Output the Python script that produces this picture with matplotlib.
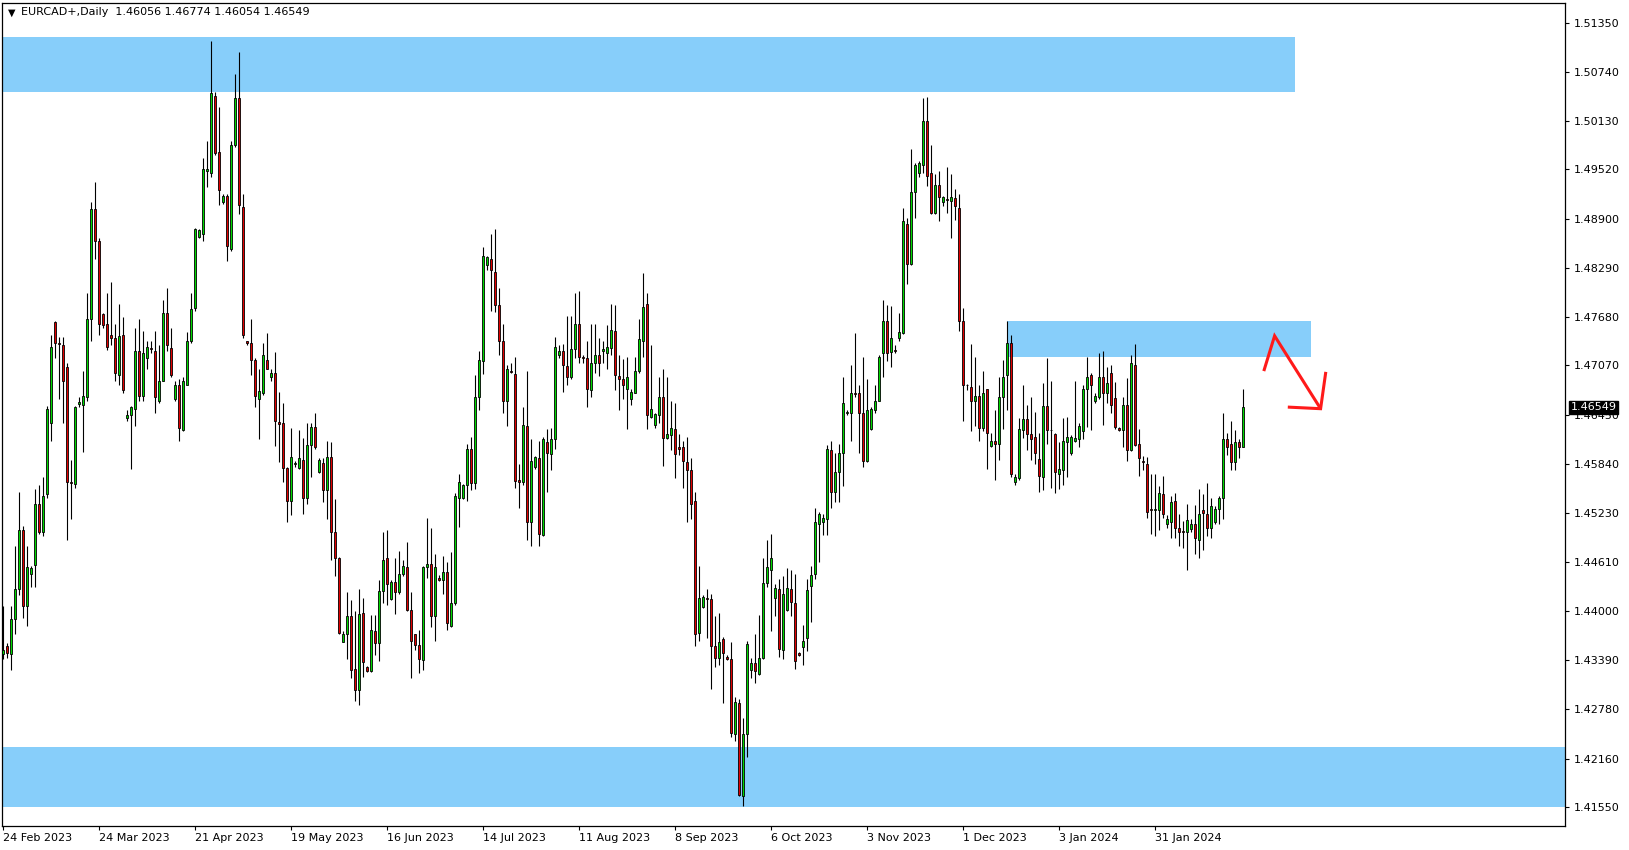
# -*- coding: utf-8 -*-
"""EURCAD daily candles with supply/demand zones (MT4 style)."""

import matplotlib
matplotlib.use("Agg")
import matplotlib.pyplot as plt
import matplotlib.transforms as mtransforms
from matplotlib.patches import Rectangle
import numpy as np

symbol = "EURCAD+,Daily"

opens = [
    1.4347, 1.4357, 1.4347, 1.4390, 1.4428, 1.4502, 1.4406, 1.4447, 1.4458, 1.4534,
    1.4499, 1.4546, 1.4635, 1.4761, 1.4735, 1.4733, 1.4705, 1.4561, 1.4559, 1.4659,
    1.4657, 1.4668, 1.4765, 1.4903, 1.4862, 1.4771, 1.4759, 1.4745, 1.4741, 1.4695,
    1.4745, 1.4641, 1.4645, 1.4653, 1.4725, 1.4669, 1.4716, 1.4729, 1.4725, 1.4663,
    1.4688, 1.4772, 1.4729, 1.4665, 1.4683, 1.4627, 1.4683, 1.4737, 1.4779, 1.4867,
    1.4871, 1.4950, 1.4948, 1.5043, 1.4974, 1.4911, 1.4919, 1.4852, 1.4982, 1.5041,
    1.4905, 1.4737, 1.4735, 1.4714, 1.4665, 1.4672, 1.4714, 1.4692, 1.4698, 1.4636,
    1.4635, 1.4579, 1.4538, 1.4584, 1.4579, 1.4589, 1.4541, 1.4608, 1.4630, 1.4574,
    1.4585, 1.4551, 1.4593, 1.4499, 1.4467, 1.4362, 1.4372, 1.4394, 1.4328, 1.4301,
    1.4398, 1.4330, 1.4325, 1.4375, 1.4360, 1.4425, 1.4467, 1.4415, 1.4437, 1.4424,
    1.4446, 1.4455, 1.4402, 1.4371, 1.4358, 1.4339, 1.4455, 1.4459, 1.4394, 1.4442,
    1.4439, 1.4449, 1.4382, 1.4410, 1.4542, 1.4541, 1.4558, 1.4603, 1.4560, 1.4668,
    1.4712, 1.4832, 1.4840, 1.4824, 1.4782, 1.4738, 1.4663, 1.4700, 1.4696, 1.4564,
    1.4561, 1.4631, 1.4511, 1.4580, 1.4591, 1.4495, 1.4611, 1.4596, 1.4615, 1.4720,
    1.4725, 1.4706, 1.4692, 1.4727, 1.4759, 1.4717, 1.4716, 1.4676, 1.4710, 1.4720,
    1.4725, 1.4722, 1.4729, 1.4750, 1.4694, 1.4690, 1.4678, 1.4665, 1.4673, 1.4700,
    1.4738, 1.4784, 1.4643, 1.4633, 1.4645, 1.4667, 1.4616, 1.4620, 1.4628, 1.4605,
    1.4605, 1.4586, 1.4576, 1.4538, 1.4373, 1.4405, 1.4416, 1.4415, 1.4357, 1.4341,
    1.4365, 1.4343, 1.4340, 1.4247, 1.4285, 1.4169, 1.4247, 1.4327, 1.4335, 1.4321,
    1.4341, 1.4435, 1.4452, 1.4417, 1.4428, 1.4352, 1.4402, 1.4428, 1.4410, 1.4348,
    1.4355, 1.4367, 1.4432, 1.4447, 1.4509, 1.4511, 1.4515, 1.4601, 1.4549, 1.4574,
    1.4598, 1.4647, 1.4647, 1.4672, 1.4672, 1.4647, 1.4588, 1.4628, 1.4651, 1.4663,
    1.4722, 1.4763, 1.4724, 1.4726, 1.4741, 1.4747, 1.4884, 1.4834, 1.4924, 1.4948,
    1.4958, 1.5012, 1.4948, 1.4897, 1.4933, 1.4911, 1.4915, 1.4913, 1.4916, 1.4904,
    1.4763, 1.4683, 1.4680, 1.4662, 1.4669, 1.4629, 1.4677, 1.4607, 1.4613, 1.4609,
    1.4668, 1.4695, 1.4735, 1.4562, 1.4566, 1.4627, 1.4640, 1.4621, 1.4618, 1.4590,
    1.4568, 1.4656, 1.4627, 1.4621, 1.4571, 1.4576, 1.4611, 1.4598, 1.4613, 1.4615,
    1.4625, 1.4677, 1.4695, 1.4662, 1.4667, 1.4693, 1.4672, 1.4697, 1.4666, 1.4629,
    1.4627, 1.4657, 1.4601, 1.4708, 1.4609, 1.4588, 1.4584, 1.4528, 1.4527, 1.4526,
    1.4546, 1.4509, 1.4511, 1.4538, 1.4504, 1.4500, 1.4499, 1.4503, 1.4509, 1.4489,
    1.4526, 1.4522, 1.4504, 1.4511, 1.4528, 1.4541, 1.4615, 1.4609, 1.4586, 1.4611,
    1.46056,
]

highs = [
    1.4407, 1.4360, 1.4407, 1.4482, 1.4549, 1.4507, 1.4481, 1.4457, 1.4553, 1.4558,
    1.4568, 1.4656, 1.4745, 1.4763, 1.4743, 1.4743, 1.4710, 1.4589, 1.4656, 1.4668,
    1.4700, 1.4797, 1.4911, 1.4936, 1.4866, 1.4772, 1.4797, 1.4811, 1.4759, 1.4784,
    1.4767, 1.4651, 1.4656, 1.4754, 1.4765, 1.4750, 1.4738, 1.4738, 1.4750, 1.4732,
    1.4789, 1.4804, 1.4754, 1.4688, 1.4690, 1.4692, 1.4749, 1.4797, 1.4879, 1.4877,
    1.4966, 1.4988, 1.5112, 1.5049, 1.5030, 1.4921, 1.4921, 1.4988, 1.5071, 1.5098,
    1.4921, 1.4738, 1.4765, 1.4716, 1.4703, 1.4735, 1.4747, 1.4703, 1.4724, 1.4674,
    1.4660, 1.4580, 1.4629, 1.4588, 1.4627, 1.4616, 1.4635, 1.4635, 1.4648, 1.4591,
    1.4591, 1.4613, 1.4611, 1.4540, 1.4468, 1.4375, 1.4424, 1.4414, 1.4400, 1.4428,
    1.4417, 1.4331, 1.4395, 1.4395, 1.4439, 1.4499, 1.4501, 1.4439, 1.4466, 1.4475,
    1.4464, 1.4486, 1.4424, 1.4372, 1.4377, 1.4457, 1.4517, 1.4504, 1.4471, 1.4445,
    1.4469, 1.4462, 1.4474, 1.4548, 1.4571, 1.4559, 1.4609, 1.4618, 1.4695, 1.4725,
    1.4855, 1.4844, 1.4871, 1.4878, 1.4804, 1.4759, 1.4708, 1.4710, 1.4718, 1.4584,
    1.4655, 1.4700, 1.4615, 1.4594, 1.4613, 1.4618, 1.4628, 1.4629, 1.4743, 1.4732,
    1.4734, 1.4769, 1.4769, 1.4797, 1.4800, 1.4720, 1.4737, 1.4759, 1.4759, 1.4741,
    1.4737, 1.4757, 1.4784, 1.4782, 1.4720, 1.4715, 1.4718, 1.4677, 1.4718, 1.4765,
    1.4822, 1.4797, 1.4732, 1.4648, 1.4692, 1.4702, 1.4692, 1.4662, 1.4660, 1.4621,
    1.4613, 1.4618, 1.4591, 1.4549, 1.4457, 1.4420, 1.4428, 1.4422, 1.4394, 1.4398,
    1.4368, 1.4345, 1.4361, 1.4293, 1.4290, 1.4266, 1.4363, 1.4341, 1.4371, 1.4395,
    1.4467, 1.4489, 1.4496, 1.4434, 1.4440, 1.4444, 1.4454, 1.4452, 1.4447, 1.4349,
    1.4383, 1.4440, 1.4457, 1.4529, 1.4524, 1.4522, 1.4608, 1.4613, 1.4598, 1.4609,
    1.4692, 1.4651, 1.4708, 1.4747, 1.4683, 1.4718, 1.4690, 1.4655, 1.4682, 1.4720,
    1.4789, 1.4783, 1.4781, 1.4732, 1.4772, 1.4904, 1.4891, 1.4978, 1.4960, 1.4962,
    1.5041, 1.5042, 1.4983, 1.4946, 1.4950, 1.4919, 1.4955, 1.4946, 1.4928, 1.4921,
    1.4779, 1.4684, 1.4734, 1.4718, 1.4683, 1.4700, 1.4678, 1.4623, 1.4651, 1.4692,
    1.4714, 1.4762, 1.4745, 1.4571, 1.4641, 1.4683, 1.4658, 1.4668, 1.4649, 1.4623,
    1.4685, 1.4716, 1.4688, 1.4623, 1.4611, 1.4641, 1.4643, 1.4620, 1.4687, 1.4635,
    1.4683, 1.4718, 1.4697, 1.4672, 1.4723, 1.4725, 1.4705, 1.4707, 1.4686, 1.4630,
    1.4668, 1.4691, 1.4720, 1.4734, 1.4628, 1.4594, 1.4593, 1.4571, 1.4571, 1.4556,
    1.4569, 1.4520, 1.4544, 1.4548, 1.4522, 1.4513, 1.4534, 1.4515, 1.4533, 1.4553,
    1.4546, 1.4560, 1.4541, 1.4531, 1.4544, 1.4647, 1.4623, 1.4638, 1.4626, 1.4615,
    1.46774,
]

lows = [
    1.4340, 1.4341, 1.4327, 1.4371, 1.4420, 1.4391, 1.4381, 1.4430, 1.4430, 1.4497,
    1.4494, 1.4541, 1.4613, 1.4716, 1.4665, 1.4635, 1.4489, 1.4515, 1.4554, 1.4655,
    1.4599, 1.4663, 1.4738, 1.4840, 1.4745, 1.4754, 1.4726, 1.4733, 1.4688, 1.4683,
    1.4672, 1.4638, 1.4578, 1.4631, 1.4662, 1.4663, 1.4702, 1.4722, 1.4648, 1.4660,
    1.4687, 1.4725, 1.4692, 1.4663, 1.4613, 1.4625, 1.4682, 1.4735, 1.4775, 1.4866,
    1.4862, 1.4930, 1.4942, 1.4970, 1.4908, 1.4909, 1.4838, 1.4850, 1.4980, 1.4896,
    1.4741, 1.4732, 1.4695, 1.4655, 1.4615, 1.4670, 1.4702, 1.4687, 1.4607, 1.4586,
    1.4561, 1.4511, 1.4520, 1.4580, 1.4578, 1.4521, 1.4534, 1.4568, 1.4603, 1.4573,
    1.4536, 1.4515, 1.4464, 1.4444, 1.4372, 1.4361, 1.4340, 1.4316, 1.4288, 1.4283,
    1.4318, 1.4324, 1.4324, 1.4345, 1.4338, 1.4410, 1.4408, 1.4414, 1.4397, 1.4422,
    1.4444, 1.4400, 1.4316, 1.4352, 1.4323, 1.4327, 1.4442, 1.4380, 1.4363, 1.4438,
    1.4422, 1.4377, 1.4380, 1.4408, 1.4505, 1.4540, 1.4538, 1.4551, 1.4553, 1.4651,
    1.4696, 1.4826, 1.4775, 1.4774, 1.4720, 1.4647, 1.4631, 1.4697, 1.4554, 1.4529,
    1.4558, 1.4489, 1.4482, 1.4578, 1.4482, 1.4494, 1.4549, 1.4576, 1.4603, 1.4716,
    1.4674, 1.4682, 1.4690, 1.4716, 1.4710, 1.4710, 1.4655, 1.4667, 1.4698, 1.4694,
    1.4710, 1.4702, 1.4720, 1.4676, 1.4651, 1.4665, 1.4628, 1.4657, 1.4672, 1.4698,
    1.4718, 1.4628, 1.4641, 1.4629, 1.4635, 1.4582, 1.4615, 1.4601, 1.4566, 1.4595,
    1.4554, 1.4511, 1.4515, 1.4357, 1.4363, 1.4404, 1.4367, 1.4303, 1.4330, 1.4333,
    1.4285, 1.4339, 1.4243, 1.4238, 1.4169, 1.4157, 1.4218, 1.4316, 1.4310, 1.4320,
    1.4340, 1.4430, 1.4375, 1.4394, 1.4343, 1.4340, 1.4400, 1.4394, 1.4328, 1.4344,
    1.4333, 1.4350, 1.4387, 1.4440, 1.4462, 1.4495, 1.4495, 1.4529, 1.4536, 1.4536,
    1.4556, 1.4645, 1.4613, 1.4668, 1.4598, 1.4580, 1.4586, 1.4627, 1.4648, 1.4662,
    1.4692, 1.4712, 1.4705, 1.4722, 1.4738, 1.4746, 1.4809, 1.4832, 1.4891, 1.4943,
    1.4948, 1.4931, 1.4896, 1.4896, 1.4888, 1.4906, 1.4897, 1.4866, 1.4889, 1.4750,
    1.4638, 1.4676, 1.4625, 1.4631, 1.4613, 1.4625, 1.4578, 1.4605, 1.4564, 1.4589,
    1.4628, 1.4651, 1.4568, 1.4558, 1.4564, 1.4616, 1.4601, 1.4589, 1.4584, 1.4549,
    1.4551, 1.4609, 1.4554, 1.4548, 1.4553, 1.4558, 1.4568, 1.4595, 1.4612, 1.4605,
    1.4615, 1.4630, 1.4626, 1.4660, 1.4665, 1.4633, 1.4660, 1.4648, 1.4628, 1.4625,
    1.4605, 1.4588, 1.4600, 1.4607, 1.4569, 1.4576, 1.4517, 1.4496, 1.4494, 1.4501,
    1.4517, 1.4504, 1.4492, 1.4491, 1.4482, 1.4479, 1.4452, 1.4499, 1.4471, 1.4467,
    1.4477, 1.4494, 1.4491, 1.4509, 1.4509, 1.4515, 1.4595, 1.4576, 1.4576, 1.4591,
    1.46054,
]

closes = [
    1.4352, 1.4348, 1.4390, 1.4428, 1.4502, 1.4406, 1.4455, 1.4454, 1.4534, 1.4499,
    1.4544, 1.4653, 1.4730, 1.4735, 1.4734, 1.4687, 1.4561, 1.4560, 1.4655, 1.4661,
    1.4669, 1.4765, 1.4903, 1.4862, 1.4759, 1.4757, 1.4730, 1.4741, 1.4697, 1.4744,
    1.4676, 1.4645, 1.4655, 1.4725, 1.4669, 1.4722, 1.4730, 1.4727, 1.4667, 1.4688,
    1.4772, 1.4732, 1.4695, 1.4683, 1.4629, 1.4687, 1.4738, 1.4777, 1.4877, 1.4876,
    1.4953, 1.4952, 1.5047, 1.4972, 1.4926, 1.4919, 1.4856, 1.4983, 1.5041, 1.4907,
    1.4745, 1.4735, 1.4714, 1.4669, 1.4675, 1.4720, 1.4703, 1.4698, 1.4638, 1.4634,
    1.4579, 1.4538, 1.4593, 1.4585, 1.4591, 1.4541, 1.4608, 1.4630, 1.4605, 1.4589,
    1.4551, 1.4593, 1.4499, 1.4467, 1.4373, 1.4372, 1.4394, 1.4327, 1.4301, 1.4397,
    1.4337, 1.4325, 1.4377, 1.4360, 1.4425, 1.4464, 1.4434, 1.4437, 1.4424, 1.4446,
    1.4457, 1.4402, 1.4363, 1.4358, 1.4340, 1.4455, 1.4459, 1.4394, 1.4455, 1.4439,
    1.4449, 1.4385, 1.4410, 1.4544, 1.4561, 1.4558, 1.4603, 1.4560, 1.4668, 1.4714,
    1.4844, 1.4842, 1.4826, 1.4783, 1.4738, 1.4663, 1.4702, 1.4699, 1.4563, 1.4561,
    1.4633, 1.4511, 1.4588, 1.4593, 1.4497, 1.4615, 1.4598, 1.4615, 1.4730, 1.4725,
    1.4707, 1.4692, 1.4727, 1.4759, 1.4718, 1.4716, 1.4677, 1.4710, 1.4720, 1.4710,
    1.4727, 1.4730, 1.4751, 1.4695, 1.4690, 1.4682, 1.4693, 1.4674, 1.4700, 1.4740,
    1.4780, 1.4645, 1.4653, 1.4646, 1.4667, 1.4617, 1.4621, 1.4629, 1.4596, 1.4603,
    1.4588, 1.4576, 1.4534, 1.4372, 1.4417, 1.4418, 1.4415, 1.4357, 1.4341, 1.4361,
    1.4348, 1.4340, 1.4248, 1.4286, 1.4171, 1.4247, 1.4359, 1.4335, 1.4325, 1.4341,
    1.4435, 1.4455, 1.4467, 1.4429, 1.4353, 1.4422, 1.4429, 1.4412, 1.4338, 1.4345,
    1.4363, 1.4427, 1.4445, 1.4511, 1.4522, 1.4517, 1.4603, 1.4549, 1.4574, 1.4598,
    1.4660, 1.4649, 1.4672, 1.4671, 1.4647, 1.4588, 1.4651, 1.4653, 1.4663, 1.4718,
    1.4763, 1.4722, 1.4741, 1.4725, 1.4749, 1.4887, 1.4834, 1.4924, 1.4958, 1.4960,
    1.5013, 1.4944, 1.4897, 1.4933, 1.4917, 1.4917, 1.4914, 1.4917, 1.4906, 1.4763,
    1.4683, 1.4682, 1.4663, 1.4669, 1.4629, 1.4673, 1.4623, 1.4613, 1.4609, 1.4668,
    1.4692, 1.4735, 1.4571, 1.4568, 1.4628, 1.4640, 1.4621, 1.4615, 1.4598, 1.4569,
    1.4656, 1.4627, 1.4626, 1.4574, 1.4578, 1.4613, 1.4618, 1.4618, 1.4616, 1.4631,
    1.4677, 1.4692, 1.4682, 1.4669, 1.4693, 1.4672, 1.4685, 1.4658, 1.4630, 1.4627,
    1.4657, 1.4601, 1.4710, 1.4608, 1.4591, 1.4587, 1.4524, 1.4527, 1.4528, 1.4548,
    1.4522, 1.4515, 1.4536, 1.4504, 1.4499, 1.4499, 1.4514, 1.4509, 1.4491, 1.4522,
    1.4523, 1.4504, 1.4532, 1.4528, 1.4541, 1.4615, 1.4605, 1.4586, 1.4611, 1.4605,
    1.46549,
]

# date labels every 24 bars
date_labels = ["24 Feb 2023", "24 Mar 2023", "21 Apr 2023", "19 May 2023",
               "16 Jun 2023", "14 Jul 2023", "11 Aug 2023", "8 Sep 2023",
               "6 Oct 2023", "3 Nov 2023", "1 Dec 2023", "3 Jan 2024", "31 Jan 2024"]
date_step = 24

price_ticks = [1.51350, 1.50740, 1.50130, 1.49520, 1.48900, 1.48290, 1.47680,
               1.47070, 1.46450, 1.45840, 1.45230, 1.44610, 1.44000, 1.43390,
               1.42780, 1.42160, 1.41550]

# zones: (first bar, last bar, low, high)
zones = [
    (-5, 323, 1.5048, 1.5117),
    (251, 327, 1.4718, 1.4762),
    (-5, 420, 1.4156, 1.4230),
]

# hand-drawn arrow: (bar, price)
arrow_path = [(315.2, 1.4700), (317.9, 1.4744), (329.4, 1.4653)]
arrow_head = [(321.2, 1.4655), (329.4, 1.4653), (330.7, 1.4699)]

W, H = 1629, 850
fig = plt.figure(figsize=(W / 100, H / 100), dpi=100)
ax = fig.add_axes([2 / W, 1 - 826 / H, (1565 - 2) / W, (826 - 3) / H])

o = np.array(opens)
h = np.array(highs)
l = np.array(lows)
c = np.array(closes)
x = np.arange(len(o))
up = c >= o

for x0, x1, lo, hi in zones:
    ax.add_patch(Rectangle((x0, lo), x1 - x0, hi - lo, facecolor="#87cefa",
                           edgecolor="none", zorder=1))

ax.vlines(x, l, h, color="black", lw=0.8, zorder=2)
ax.bar(x[up], (c - o)[up], bottom=o[up], width=0.72, color="#00d800",
       edgecolor="black", lw=0.6, zorder=3)
ax.bar(x[~up], (c - o)[~up], bottom=o[~up], width=0.72, color="#e00000",
       edgecolor="black", lw=0.6, zorder=3)

ax.plot(*zip(*arrow_path), color="#ff1a1a", lw=2.2, zorder=5,
        solid_capstyle="butt", solid_joinstyle="miter")
ax.plot(*zip(*arrow_head), color="#ff1a1a", lw=2.2, zorder=5,
        solid_capstyle="butt", solid_joinstyle="miter")

ax.set_xlim(-0.25, 390.5)
ax.set_ylim(1.41317, 1.51598)

ax.yaxis.tick_right()
ax.set_yticks(price_ticks)
ax.set_yticklabels([f"{v:.5f}" for v in price_ticks])
ax.set_xticks([i * date_step for i in range(len(date_labels))])
ax.set_xticklabels(date_labels)
for lbl in ax.get_xticklabels():
    lbl.set_ha("left")
ax.tick_params(axis="y", direction="out", length=3, width=0.8, labelsize=8,
               pad=3, colors="black")
ax.tick_params(axis="x", direction="out", length=3, width=0.8, labelsize=8,
               pad=2, colors="black")
for sp in ax.spines.values():
    sp.set_linewidth(0.9)
    sp.set_color("black")

# current price marker
trans = mtransforms.blended_transform_factory(ax.transAxes, ax.transData)
ax.annotate(f"{closes[-1]:.5f}", xy=(1.0, closes[-1]), xycoords=trans,
            xytext=(4, 0), textcoords="offset points", ha="left", va="center",
            fontsize=8, color="white", zorder=20, annotation_clip=False,
            bbox=dict(boxstyle="square,pad=0.15", facecolor="black",
                      edgecolor="black"))

# header
ax.text(0.0035, 0.9885, "\u25bc", transform=ax.transAxes, fontsize=7,
        va="center", ha="left")
ax.text(0.0122, 0.9885,
        f"{symbol}  {opens[-1]:.5f} {highs[-1]:.5f} {lows[-1]:.5f} {closes[-1]:.5f}",
        transform=ax.transAxes, fontsize=8, va="center", ha="left")

fig.savefig("out.png", dpi=100)
